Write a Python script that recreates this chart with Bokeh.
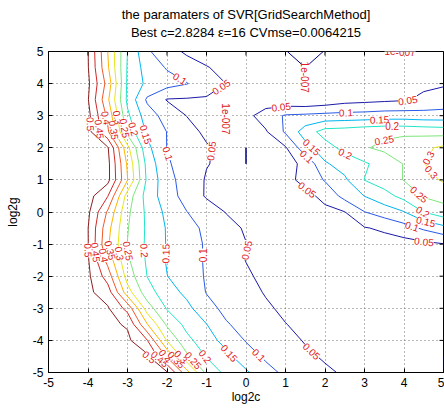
import numpy as np
import contourpy
from bokeh.plotting import figure
from bokeh.models import Range1d, FixedTicker, Title, ColumnDataSource, LinearAxis
from bokeh.embed import file_html
from bokeh.resources import INLINE
from bokeh.core.properties import value

# ---------------- data ----------------
log2c = [-5.0, -4.5, -4.0, -3.5, -3.0, -2.5, -2.0, -1.5, -1.0, -0.5, 0.0,
         0.5, 1.0, 1.5, 2.0, 2.5, 3.0, 3.5, 4.0, 4.5, 5.0]
log2g = [-5.0, -4.5, -4.0, -3.5, -3.0, -2.5, -2.0, -1.5, -1.0, -0.5, 0.0,
         0.5, 1.0, 1.5, 2.0, 2.5, 3.0, 3.5, 4.0, 4.5, 5.0]

# CV mse, rows from log2g = 5 (top) down to log2g = -5 (bottom)
mse_rows = [
    [0.54, 0.52, 0.501, 0.35, 0.20, 0.107, 0.07, 0.042, 0.035, 0.03, 0.025, 0.015, 1.1e-7, 0.0, 1.1e-7, 0.01, 0.015, 1.5e-7, 0.0, 1.5e-7, 0.02],
    [0.54, 0.52, 0.503, 0.357, 0.195, 0.128, 0.096, 0.074, 0.052, 0.04, 0.03, 0.02, 0.008, 0.0, 0.008, 0.015, 0.02, 0.015, 0.01, 0.02, 0.03],
    [0.54, 0.52, 0.51, 0.381, 0.192, 0.139, 0.119, 0.102, 0.075, 0.0495, 0.03, 0.02, 0.01, 0.0, 0.01, 0.02, 0.025, 0.025, 0.03, 0.04, 0.045],
    [0.54, 0.52, 0.503, 0.359, 0.189, 0.092, 0.047, 0.045, 0.044, 0.04, 0.03, 0.02, 0.012, 0.005, 0.015, 0.03, 0.035, 0.04, 0.045, 0.06, 0.07],
    [0.54, 0.525, 0.515, 0.388, 0.21, 0.123, 0.081, 0.049, 0.04, 0.0, 0.035, 0.074, 0.105, 0.11, 0.115, 0.118, 0.12, 0.125, 0.125, 0.12, 0.12],
    [0.54, 0.53, 0.517, 0.408, 0.233, 0.141, 0.099, 0.068, 0.04, 0.0, 0.02, 0.045, 0.107, 0.174, 0.22, 0.225, 0.235, 0.24, 0.24, 0.235, 0.23],
    [0.55, 0.54, 0.53, 0.505, 0.314, 0.163, 0.099, 0.077, 0.055, 0.035, 0.0, 0.02, 0.045, 0.132, 0.179, 0.215, 0.246, 0.26, 0.275, 0.29, 0.31],
    [0.55, 0.545, 0.535, 0.515, 0.342, 0.183, 0.106, 0.078, 0.052, 0.04, 0.0, 0.02, 0.035, 0.06, 0.144, 0.17, 0.193, 0.222, 0.252, 0.298, 0.34],
    [0.55, 0.545, 0.535, 0.515, 0.352, 0.19, 0.117, 0.078, 0.046, 0.035, 0.025, 0.025, 0.035, 0.065, 0.104, 0.142, 0.201, 0.226, 0.252, 0.28, 0.306],
    [0.545, 0.535, 0.52, 0.452, 0.278, 0.179, 0.123, 0.081, 0.045, 0.035, 0.03, 0.025, 0.02, 0.035, 0.064, 0.117, 0.151, 0.181, 0.217, 0.255, 0.267],
    [0.54, 0.53, 0.51, 0.393, 0.26, 0.189, 0.138, 0.101, 0.074, 0.048, 0.035, 0.02, 0.025, 0.03, 0.038, 0.049, 0.099, 0.124, 0.148, 0.201, 0.23],
    [0.535, 0.52, 0.501, 0.367, 0.253, 0.192, 0.146, 0.117, 0.09, 0.065, 0.045, 0.035, 0.025, 0.025, 0.03, 0.035, 0.047, 0.058, 0.08, 0.108, 0.135],
    [0.53, 0.515, 0.502, 0.357, 0.249, 0.191, 0.147, 0.12, 0.095, 0.072, 0.051, 0.04, 0.03, 0.025, 0.022, 0.025, 0.03, 0.03, 0.03, 0.038, 0.048],
    [0.53, 0.52, 0.505, 0.383, 0.258, 0.193, 0.146, 0.12, 0.095, 0.072, 0.049, 0.035, 0.025, 0.02, 0.015, 0.015, 0.015, 0.015, 0.018, 0.022, 0.03],
    [0.53, 0.52, 0.51, 0.427, 0.278, 0.199, 0.151, 0.122, 0.096, 0.076, 0.056, 0.04, 0.03, 0.02, 0.015, 0.012, 0.012, 0.012, 0.012, 0.015, 0.02],
    [0.53, 0.52, 0.51, 0.475, 0.322, 0.22, 0.173, 0.138, 0.098, 0.08, 0.064, 0.047, 0.035, 0.025, 0.018, 0.012, 0.01, 0.01, 0.01, 0.01, 0.012],
    [0.53, 0.525, 0.515, 0.505, 0.433, 0.275, 0.196, 0.164, 0.116, 0.088, 0.072, 0.056, 0.042, 0.032, 0.024, 0.016, 0.012, 0.01, 0.008, 0.006, 0.005],
    [0.535, 0.53, 0.52, 0.51, 0.495, 0.352, 0.242, 0.185, 0.151, 0.104, 0.084, 0.067, 0.051, 0.04, 0.03, 0.022, 0.015, 0.01, 0.008, 0.005, 0.003],
    [0.535, 0.53, 0.525, 0.52, 0.51, 0.452, 0.296, 0.214, 0.171, 0.133, 0.097, 0.08, 0.063, 0.047, 0.035, 0.025, 0.017, 0.011, 0.007, 0.004, 0.002],
    [0.54, 0.535, 0.53, 0.525, 0.52, 0.51, 0.393, 0.261, 0.197, 0.163, 0.123, 0.092, 0.075, 0.058, 0.045, 0.035, 0.025, 0.017, 0.01, 0.005, 5e-8],
    [0.545, 0.54, 0.535, 0.53, 0.525, 0.515, 0.505, 0.369, 0.237, 0.187, 0.157, 0.117, 0.09, 0.073, 0.057, 0.045, 0.035, 0.025, 0.015, 0.008, 0.0],
]

levels = [1e-7, 0.05, 0.1, 0.15, 0.2, 0.25, 0.3, 0.35, 0.4, 0.45, 0.5]
level_text = ["1e-007", "0.05", "0.1", "0.15", "0.2", "0.25", "0.3", "0.35", "0.4", "0.45", "0.5"]
level_colors = ["#000080", "#1a1aa8", "#2a5ae6", "#00b4f0", "#20e6c8", "#7ce67c",
                "#e6e61e", "#ffb400", "#f05a28", "#d22828", "#8c1e1e"]

# contour labels: (level index, approx log2c, approx log2g)
label_level = [2, 1, 0, 0, 0, 2, 1, 3,
               10, 9, 8, 7, 6, 5, 4,
               1, 2, 3, 4, 5, 1, 3, 2, 4, 1, 6, 6, 5, 4, 3, 2, 1,
               10, 9, 8, 7, 6, 5, 4, 3, 2, 1,
               10, 9, 8, 7, 6, 5, 4, 3, 2, 1]
label_c = [-1.65, -0.6, 1.45, 3.9, -0.47, -2.03, -0.85, -2.58,
           -3.75, -3.6, -3.45, -3.35, -3.2, -3.1, -2.8,
           0.89, 2.53, 3.38, 3.7, 3.47, 4.1, 1.69, 1.48, 2.49, 1.57, 4.3, 4.65, 4.35, 4.45, 4.55, 4.2, 4.5,
           -4.05, -3.76, -3.6, -3.45, -3.25, -2.9, -2.55, -1.95, -1.15, 0.05,
           -2.4, -2.2, -1.95, -1.8, -1.6, -1.27, -0.93, -0.47, 0.25, 1.65]
label_g = [4.2, 3.85, 4.2, 4.93, 2.9, 1.8, 1.9, 2.4,
           2.75, 2.6, 2.95, 2.55, 2.95, 2.6, 2.6,
           3.28, 3.12, 2.88, 2.68, 2.37, 3.45, 2.06, 1.65, 1.75, 0.72, 1.9, 1.2, 0.5, -0.05, -0.3, -0.47, -0.98,
           -1.2, -1.25, -1.35, -1.2, -1.3, -1.2, -1.2, -1.3, -1.35, -1.2,
           -4.45, -4.6, -4.4, -4.65, -4.45, -4.55, -4.4, -4.45, -4.55, -4.35]

title_1 = "the paramaters of SVR[GridSearchMethod]"
title_2 = "Best c=2.8284 \u03b5=16 CVmse=0.0064215"
tick_vals = [-5, -4, -3, -2, -1, 0, 1, 2, 3, 4, 5]

# ---------------- figure ----------------
W, H = 444, 408
ML, MR, MT, MB = 48, 1, 51, 36
FONT = "Liberation Sans"
XMIN, XMAX, YMIN, YMAX = -5, 5, -5, 5

p = figure(width=W, height=H, x_range=Range1d(XMIN, XMAX), y_range=Range1d(YMIN, YMAX),
           output_backend="svg", toolbar_location=None,
           min_border_left=ML, min_border_right=MR, min_border_top=MT, min_border_bottom=MB)
p.background_fill_color = "white"
p.border_fill_color = "white"
p.outline_line_color = "black"
p.outline_line_alpha = 1.0

Z = np.array(mse_rows[::-1])
X = np.array(log2c)
Y = np.array(log2g)

ticker = FixedTicker(ticks=tick_vals)
overrides = {v: str(v) for v in tick_vals}

for g in (p.xgrid[0], p.ygrid[0]):
    g.ticker = ticker
    g.grid_line_color = "#707070"
    g.grid_line_dash = "1 3"
    g.grid_line_width = 1

p.contour(x=X, y=Y, z=Z, levels=levels, line_color=level_colors, line_width=1)

for ax in (p.xaxis[0], p.yaxis[0]):
    ax.ticker = ticker
    ax.major_label_overrides = overrides
    ax.major_tick_in = 4
    ax.major_tick_out = 0
    ax.minor_tick_line_color = None
    ax.axis_line_color = "black"
    ax.major_tick_line_color = "black"
    ax.major_label_text_font = FONT
    ax.major_label_text_font_size = "12px"
    ax.major_label_text_color = "black"
    ax.major_label_standoff = 5
    ax.axis_label_text_font = FONT
    ax.axis_label_text_font_size = "12px"
    ax.axis_label_text_font_style = "normal"
    ax.axis_label_text_color = "black"

p.xaxis[0].axis_label = "log2c"
p.xaxis[0].axis_label_standoff = 0
p.yaxis[0].axis_label = "log2g"
p.yaxis[0].axis_label_standoff = 10

# inward ticks on the top and right edges of the box (clipped to the frame)
p.scatter(x=tick_vals, y=[YMAX] * len(tick_vals), marker="dash", size=8, angle=np.pi / 2,
          line_color="black", line_width=1)
p.scatter(x=[XMAX] * len(tick_vals), y=tick_vals, marker="dash", size=8,
          line_color="black", line_width=1)

# second title line: label of a tick-less axis on top, giving a gap above the box
top_ax = LinearAxis(ticker=FixedTicker(ticks=[]), axis_label=title_2,
                    axis_label_standoff=12, axis_label_text_font=FONT,
                    axis_label_text_font_size="13px", axis_label_text_font_style="normal",
                    axis_label_text_color="black", major_tick_in=0, major_tick_out=0,
                    major_label_standoff=0, axis_line_color=None,
                    minor_tick_line_color=None, major_tick_line_color=None)
p.add_layout(top_ax, "above")
# first title line above it
p.add_layout(Title(text=title_1, align="center", text_font=FONT, text_font_size="13px",
                   text_font_style="normal", text_color="black", standoff=0), "above")

# ---------------- contour labels, snapped to the computed contour lines ----------------
SX = (W - ML - MR) / 10.0
SY = (H - MT - MB) / 10.0
gen = contourpy.contour_generator(x=X, y=Y, z=Z)

lx, ly, lt, la = [], [], [], []
for idx, c0, g0 in zip(label_level, label_c, label_g):
    lines = gen.lines(levels[idx])
    best = None
    for ln in lines:
        ln = np.asarray(ln)
        if len(ln) < 2:
            continue
        a = ln[:-1]
        b = ln[1:]
        ax_ = (a[:, 0] - c0) * SX
        ay_ = (a[:, 1] - g0) * SY
        dx = (b[:, 0] - a[:, 0]) * SX
        dy = (b[:, 1] - a[:, 1]) * SY
        L2 = dx * dx + dy * dy
        L2s = np.where(L2 > 0, L2, 1.0)
        t = np.clip(-(ax_ * dx + ay_ * dy) / L2s, 0, 1)
        px = ax_ + t * dx
        py = ay_ + t * dy
        d = px * px + py * py
        d = np.where(L2 > 0, d, np.inf)
        k = int(np.argmin(d))
        if best is None or d[k] < best[0]:
            best = (d[k], c0 + px[k] / SX, g0 + py[k] / SY, np.arctan2(dy[k], dx[k]))
    if best is not None and best[0] < 30.0 ** 2:
        _, xs, ys, ang = best
        if ang > np.pi / 2:
            ang -= np.pi
        if ang < -np.pi / 2:
            ang += np.pi
    else:
        xs, ys, ang = c0, g0, 0.0
    lx.append(xs)
    ly.append(ys)
    lt.append(level_text[idx])
    la.append(float(ang))

src = ColumnDataSource(dict(x=lx, y=ly, text=lt, angle=la))
p.text(x="x", y="y", text="text", angle="angle", source=src,
       text_align="center", text_baseline="middle",
       text_font=value(FONT), text_font_size="10px", text_color="#e02020",
       background_fill_color="white", padding=0)

open("out.html", "w").write(file_html(p, INLINE))
